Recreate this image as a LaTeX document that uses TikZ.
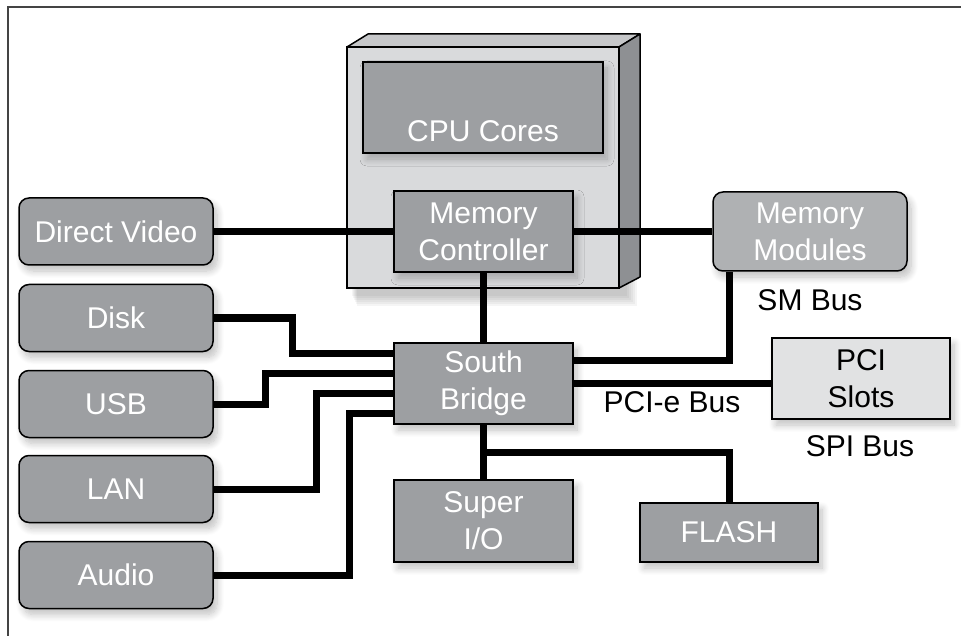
\documentclass[tikz,border=0pt]{standalone}
\usepackage{fontspec}
\setmainfont{Liberation Sans}
\usetikzlibrary{calc,shadows.blur}
\definecolor{boxgray}{HTML}{9D9FA2}
\definecolor{modgray}{HTML}{AFB1B3}
\definecolor{pcigray}{HTML}{E1E2E3}
\definecolor{pkgfront}{HTML}{D9DADC}
\definecolor{pkgtop}{HTML}{C6C7C9}
\definecolor{pkgside}{HTML}{8E9093}
\definecolor{framegray}{HTML}{444444}
\tikzset{
  softshadow/.style={blur shadow={shadow xshift=4pt, shadow yshift=-6pt, shadow blur radius=7pt, shadow blur steps=10, shadow opacity=25}},
  box/.style={draw=black, line width=1.5pt, fill=boxgray, text=white, align=center, inner sep=0pt,
    minimum width=179pt, minimum height=81pt, softshadow},
  roundbox/.style={box, rounded corners=10pt, minimum width=194pt, minimum height=67pt},
  bus/.style={line width=7pt},
}
\begin{document}
\begin{tikzpicture}[x=1pt,y=-1pt,font=\fontsize{30}{37}\selectfont]
\useasboundingbox (0,0) rectangle (961,636);
\draw[line width=2pt, draw=framegray] (8,636) -- (8,7) -- (961,7);
\foreach \s in {2,4,...,12}
  \fill[black, opacity=0.04] (351+\s/2,53+\s/2) rectangle (625+\s,294+\s);
\draw[fill=pkgfront, line width=1.5pt] (347,47) rectangle (619,288);
\draw[fill=pkgtop, line width=1.5pt, line join=round] (347,47) -- (368,34) -- (640,34) -- (619,47) -- cycle;
\draw[fill=pkgside, line width=1.5pt, line join=round] (619,47) -- (640,34) -- (640,277) -- (619,288) -- cycle;
\node[box, minimum width=240pt, minimum height=91pt, text height=69pt, text depth=0pt] (cores) at (483,107.5) {CPU Cores};
\node[box] (memctrl) at (483.5,231.5) {Memory\\Controller};
\node[box] (sb) at (483.5,383.5) {South\\Bridge};
\node[box, minimum height=82pt] (superio) at (483.5,521) {Super\\I/O};
\node[box, minimum width=178pt, minimum height=59pt] (flash) at (729,532.5) {FLASH};
\node[box, fill=pcigray, text=black, minimum width=178pt] (pci) at (861,378.5) {PCI\\Slots};
\node[roundbox, fill=modgray, minimum height=79pt] (memmod) at (810,231.5) {Memory\\Modules};
\node[roundbox] (video) at (116,231.5) {Direct Video};
\foreach \name/\txt/\y in {disk/Disk/318, usb/USB/404, lan/LAN/489, audio/Audio/575}
  \node[roundbox] (\name) at (116,\y) {\txt};
\node (smbus) at (810,300) {SM Bus};
\node (pcie) at (672,402) {PCI-e Bus};
\node (spibus) at (860,446) {SPI Bus};
\draw[bus] (video) -- (memctrl);
\draw[bus] (memctrl) -- (memmod);
\draw[bus] (memctrl) -- (sb);
\draw[bus] (sb) -- (superio);
\foreach \name/\dx/\dy in {disk/79/30.5, usb/52/10.5, lan/103/-10, audio/136/-30}
  \draw[bus] (\name.east) -- ++(\dx,0) |- ([yshift=\dy pt]sb.west);
\draw[bus] ([yshift=23.5pt]sb.east) -| ([xshift=-81pt]memmod.south);
\draw[bus] (sb.east) -- (sb.east -| pci.west);
\draw[bus] ($(sb.south)!.5!(superio.north)$) -| (flash);
\end{tikzpicture}
\end{document}
